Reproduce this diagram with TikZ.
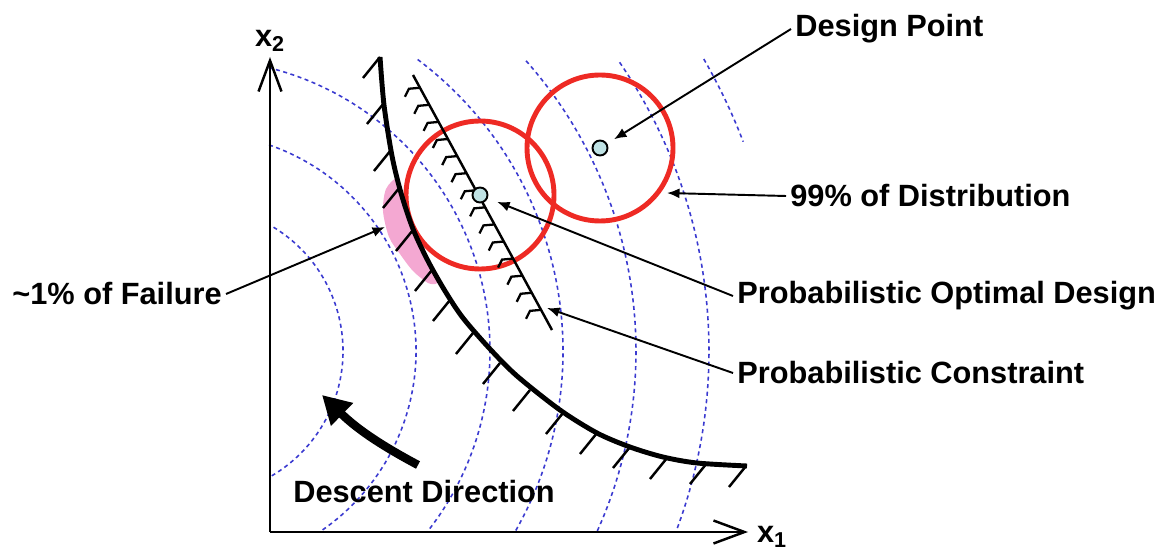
\documentclass[tikz,border=0pt]{standalone}
\usepackage{fontspec}
\setmainfont{Liberation Sans}
\usetikzlibrary{arrows.meta,calc}
\definecolor{relRed}{HTML}{EE2A24}
\definecolor{relBlue}{HTML}{3A3AD0}
\definecolor{relPink}{HTML}{F4A8D2}
\definecolor{relDot}{HTML}{BFE2E4}

\begin{document}
\begin{tikzpicture}[x=0.02cm,y=0.02cm,
  lbl/.style={font=\bfseries\fontsize{17.5}{20}\selectfont,inner sep=0.08cm},
  contour/.style={relBlue,line width=0.9pt,dash pattern=on 2.3pt off 2pt},
  leader/.style={line width=1.1pt,-{Latex[length=0.25cm,width=0.2cm]}},
  ring/.style={relRed,line width=2.8pt},
  hatch/.style={line width=1.4pt},
  dot/.style={circle,draw,fill=relDot,line width=1.1pt,minimum size=0.3cm,inner sep=0pt},
  axis/.style={line width=1.4pt,-{Straight Barb[length=0.62cm,width=0.46cm]}}]

  \useasboundingbox (0,0) rectangle (1168,551);

  % iso-density contours of the input distribution
  \coordinate (mu) at (198,200);
  \foreach \r/\a/\b in {145/58.6/-59.6, 218/71/-56, 292/76/-38.3, 365/53/-29.6,
                        438/41.5/-24.4, 511/34.4/-20.7, 584/30/21}
    \draw[contour] (mu) ++(\a:\r) arc[start angle=\a,end angle=\b,radius=\r];

  % failure region
  \fill[relPink] plot[smooth cycle] coordinates {(397,373) (401,358) (407,340)
    (414,318) (424,298) (433,280) (437,268) (428,268) (413,280) (400,297)
    (389,314) (383,340) (386,362)};

  \draw[ring] (480,356) circle[radius=74];
  \draw[ring] (600,403) circle[radius=73];

  % limit state with hatching
  \draw[line width=2.8pt] plot[smooth] coordinates {(380,494) (384,446) (392,395)
    (401,358) (413,322) (428,290) (445,260) (463,233) (490,202) (517,175)
    (560,141) (597,118) (630,104) (663,94) (697,88) (747,85)};
  \foreach \x/\y in {380/494, 384/448, 391/401, 400/364, 413/321, 432/281,
                     450/251, 473/218, 500/188, 530/161, 563/138, 597/118,
                     630/104, 667/93, 707/88, 746/85}
    \draw[hatch] (\x,\y) -- ++(-17,-21);

  % probabilistic constraint
  \coordinate (conA) at (413,476);
  \coordinate (conB) at (552,221);
  \draw[hatch] (conA) -- (conB);
  \foreach \t in {0.05,0.117,...,0.98}
    \draw[line width=1.3pt] ($(conA)!\t!(conB)$) -- ++(-11,-1) -- ++(-4,-8);

  \node[dot] (dotOpt) at (480,356) {};
  \node[dot] (dotDes) at (600,403) {};

  % axes
  \coordinate (orig) at (270,19);
  \coordinate (xEnd) at (748,19);
  \coordinate (yEnd) at (270,494);
  \draw[axis] (orig) -- (xEnd);
  \draw[axis] (orig) -- (yEnd);
  \node[lbl] (xOneLbl) at (772,14) {x\textsubscript{1}};
  \node[lbl] (xTwoLbl) at (270,510) {x\textsubscript{2}};

  % labels
  \node[lbl,anchor=west] (lblDesign) at (791,522) {Design Point};
  \node[lbl,anchor=west] (lblDist) at (786,355) {99\% of Distribution};
  \node[lbl,anchor=west] (lblOpt) at (733,255) {Probabilistic Optimal Design};
  \node[lbl,anchor=west] (lblCon) at (733,178) {Probabilistic Constraint};
  \node[lbl,anchor=west] (lblFail) at (8,257) {\textasciitilde1\% of Failure};
  \node[lbl,anchor=west] (lblDesc) at (289,59) {Descent Direction};

  \coordinate (distTip) at (667,358);
  \coordinate (conTip) at (547,243);
  \coordinate (failTip) at (385,324);
  \draw[leader,shorten >=0.16cm] (lblDesign.west) -- (dotDes);
  \draw[leader] (lblDist.west) -- (distTip);
  \draw[leader,shorten >=0.2cm] (lblOpt.west) -- (dotOpt);
  \draw[leader] (lblCon.west) -- (conTip);
  \draw[leader] (lblFail.east) -- (failTip);

  % descent direction
  \coordinate (descStart) at (418,86);
  \coordinate (descTip) at (322,156);
  \draw[line width=4.8pt,-{Triangle[length=0.56cm,width=0.6cm]}]
    (descStart) to[bend left=8] (descTip);
\end{tikzpicture}
\end{document}
